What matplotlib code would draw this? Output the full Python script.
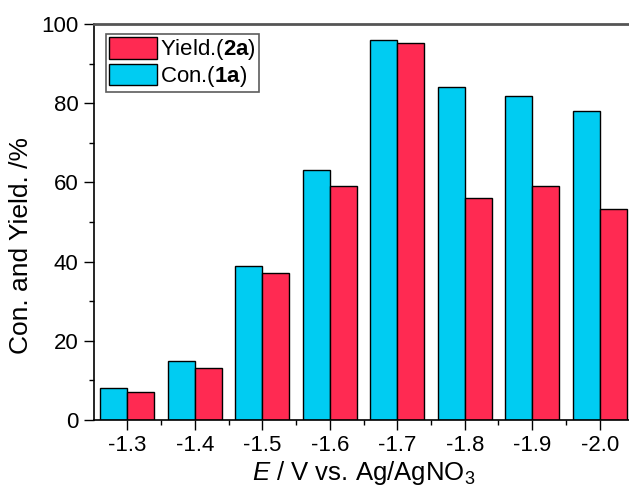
import numpy as np
import matplotlib
matplotlib.use("Agg")
import matplotlib.pyplot as plt
from matplotlib.ticker import MultipleLocator

plt.rcParams['font.family'] = ['Liberation Sans', 'DejaVu Sans']
plt.rcParams['mathtext.fontset'] = 'custom'
plt.rcParams['mathtext.rm'] = 'Liberation Sans'
plt.rcParams['mathtext.it'] = 'Liberation Sans:italic'
plt.rcParams['mathtext.bf'] = 'Liberation Sans:bold'

potentials = ['-1.3', '-1.4', '-1.5', '-1.6', '-1.7', '-1.8', '-1.9', '-2.0']
conversion = [8.0, 15.0, 39.0, 63.2, 96.0, 84.1, 81.8, 78.0]
yield_2a = [7.0, 13.2, 37.0, 59.0, 95.2, 56.0, 59.0, 53.2]

cyan = '#00CCF2'
red = '#FF2A52'

fig = plt.figure(figsize=(6.29, 4.95), dpi=100)
ax = fig.add_axes([0.149, 0.1515, 0.858, 0.80])

x = np.arange(len(potentials))
w = 0.4
b_con = ax.bar(x - w/2, conversion, w, color=cyan, edgecolor='black', linewidth=1.0,
               label='Con.($\\mathbf{1a}$)')
b_yld = ax.bar(x + w/2, yield_2a, w, color=red, edgecolor='black', linewidth=1.0,
               label='Yield.($\\mathbf{2a}$)')

ax.set_xlim(-0.5, len(potentials) - 0.5)
ax.set_ylim(0, 100)
ax.set_xticks(x)
ax.set_xticklabels(potentials)
ax.set_xticks(x[:-1] + 0.5, minor=True)
ax.yaxis.set_major_locator(MultipleLocator(20))
ax.yaxis.set_minor_locator(MultipleLocator(10))

ax.tick_params(axis='both', which='major', direction='out', length=7, width=1,
               labelsize=16, colors='black', pad=4)
ax.tick_params(axis='both', which='minor', direction='out', length=3.5, width=1)

ax.spines['right'].set_visible(False)
ax.spines['top'].set_color('#555555')
ax.spines['top'].set_linewidth(2)
ax.spines['left'].set_linewidth(1.2)
ax.spines['bottom'].set_linewidth(1.2)

ax.set_ylabel('Con. and Yield. /%', fontsize=19)
ax.yaxis.set_label_coords(-0.113, 0.44)
ax.set_xlabel('$\\mathit{E}$ / V vs. Ag/AgNO$_3$', fontsize=18.5, labelpad=2)

leg = ax.legend(handles=[b_yld, b_con], loc='upper left', bbox_to_anchor=(0.022, 0.975),
                fontsize=16, frameon=True, fancybox=False, edgecolor='#333333',
                handlelength=2.15, handleheight=1.1, handletextpad=0.15,
                borderpad=0.15, labelspacing=0.05, borderaxespad=0)
leg.get_frame().set_linewidth(1.2)

fig.savefig('out.png', dpi=100)
